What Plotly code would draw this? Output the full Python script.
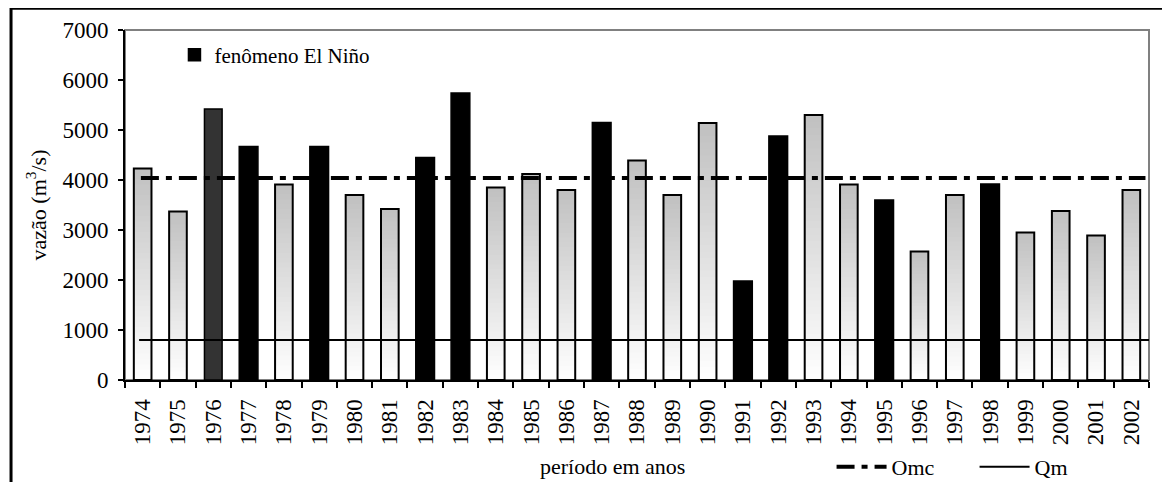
import plotly.graph_objects as go

# ---------------- data ----------------
years = [str(y) for y in range(1974, 2003)]
vazao = [4230, 3370, 5420, 4670, 3910, 4670, 3700, 3420, 4450, 5740,
         3850, 4120, 3800, 5150, 4390, 3700, 5140, 1980, 4880, 5300,
         3910, 3600, 2570, 3700, 3920, 2950, 3380, 2890, 3800]
el_nino_years = ["1977", "1979", "1982", "1983", "1987", "1991",
                 "1992", "1995", "1998"]
dark_year = ["1976"]
qmc = 4040   # label "Omc"
qm = 800
y_ticks = [0, 1000, 2000, 3000, 4000, 5000, 6000, 7000]

FONT = "Liberation Serif"

special = el_nino_years + dark_year
normal_x = [y for y in years if y not in special]
normal_v = [v for y, v in zip(years, vazao) if y not in special]
nino_x = [y for y in years if y in el_nino_years]
nino_v = [v for y, v in zip(years, vazao) if y in el_nino_years]
dark_x = [y for y in years if y in dark_year]
dark_v = [v for y, v in zip(years, vazao) if y in dark_year]

fig = go.Figure()

# gradient fill for normal years: overlapping, progressively shorter bars
N = 40
top_rgb = (192, 192, 192)
bot_rgb = (255, 255, 255)
for k in range(N):
    frac_top = (N - k) / N
    f = (N - k - 0.5) / N
    c = tuple(int(round(b + (t - b) * f)) for t, b in zip(top_rgb, bot_rgb))
    fig.add_trace(go.Bar(
        x=normal_x, y=[v * frac_top for v in normal_v],
        width=0.5, marker=dict(color="rgb(%d,%d,%d)" % c, line=dict(width=0)),
        showlegend=False, hoverinfo="skip"))

# outline of the normal bars
fig.add_trace(go.Bar(
    x=normal_x, y=normal_v, width=0.5,
    marker=dict(color="rgba(0,0,0,0)", line=dict(color="black", width=2)),
    showlegend=False, name="vazão"))

# 1976 (dark grey) bar
fig.add_trace(go.Bar(
    x=dark_x, y=dark_v, width=0.5, showlegend=False, name="1976",
    marker=dict(color="#333333", line=dict(color="black", width=1.5))))

# El Niño bars
fig.add_trace(go.Bar(
    x=nino_x, y=nino_v, width=0.53, name="fenômeno El Niño",
    marker=dict(color="black", line=dict(color="black", width=1.5)),
    legend="legend"))

# reference lines (shapes on the data axes, shown in legend2)
fig.add_shape(type="line", xref="x", yref="y", x0=-0.05, x1=28.4, y0=qmc, y1=qmc,
              line=dict(color="black", width=4, dash="18px,7px,6px,7px"),
              showlegend=True, name="Omc", legend="legend2")
fig.add_shape(type="line", xref="x", yref="y", x0=-0.1, x1=28.75, y0=qm, y1=qm,
              line=dict(color="black", width=2),
              showlegend=True, name="Qm", legend="legend2")

# plot-area border (grey) and outer chart border (black)
fig.add_shape(type="rect", xref="paper", yref="paper", x0=0, x1=1, y0=0, y1=1,
              line=dict(color="#808080", width=2), layer="below")
fig.add_shape(type="rect", xref="paper", yref="paper",
              x0=-0.1113, x1=1.08, y0=-0.35, y1=1.062,
              line=dict(color="black", width=3), layer="below")

# x-axis title placed like the original
fig.add_annotation(text="período em anos", xref="paper", yref="paper",
                   x=(612 - 125) / 1024, y=(380 - 466) / 350, showarrow=False,
                   xanchor="center", yanchor="middle",
                   font=dict(family=FONT, size=22, color="black"))

# the page body adds an 8 px offset, so margins are reduced by 8 px
fig.update_layout(
    width=1170, height=482,
    margin=dict(l=117, r=29, t=22, b=110, autoexpand=False),
    paper_bgcolor="white", plot_bgcolor="white",
    barmode="overlay",
    font=dict(family=FONT, size=22, color="black"),
    legend=dict(x=0.0483, y=0.9286, xanchor="left", yanchor="middle",
                bgcolor="rgba(0,0,0,0)", font=dict(family=FONT, size=21)),
    legend2=dict(orientation="h", x=0.69, y=-0.2486, xanchor="left",
                 yanchor="middle", bgcolor="rgba(0,0,0,0)",
                 font=dict(family=FONT, size=22), itemwidth=50,
                 entrywidth=78),
    xaxis=dict(type="category", categoryorder="array", categoryarray=years,
               range=[-0.5, 28.5], tickangle=-90, ticks="outside",
               tickson="boundaries", ticklen=6, tickwidth=2, tickcolor="black",
               showline=True, linecolor="black", linewidth=2, showgrid=False,
               automargin=False, ticklabelstandoff=8,
               tickfont=dict(family=FONT, size=23)),
    yaxis=dict(range=[0, 7000], tickvals=y_ticks, ticks="outside", ticklen=5,
               tickwidth=2, tickcolor="black", showline=True, linecolor="black",
               linewidth=2, showgrid=False, zeroline=False, automargin=False,
               ticklabelstandoff=5,
               tickfont=dict(family=FONT, size=23),
               title=dict(text="vazão (m<sup>3</sup>/s)", standoff=10,
                          font=dict(family=FONT, size=22))),
)

fig.write_html("out.html")
